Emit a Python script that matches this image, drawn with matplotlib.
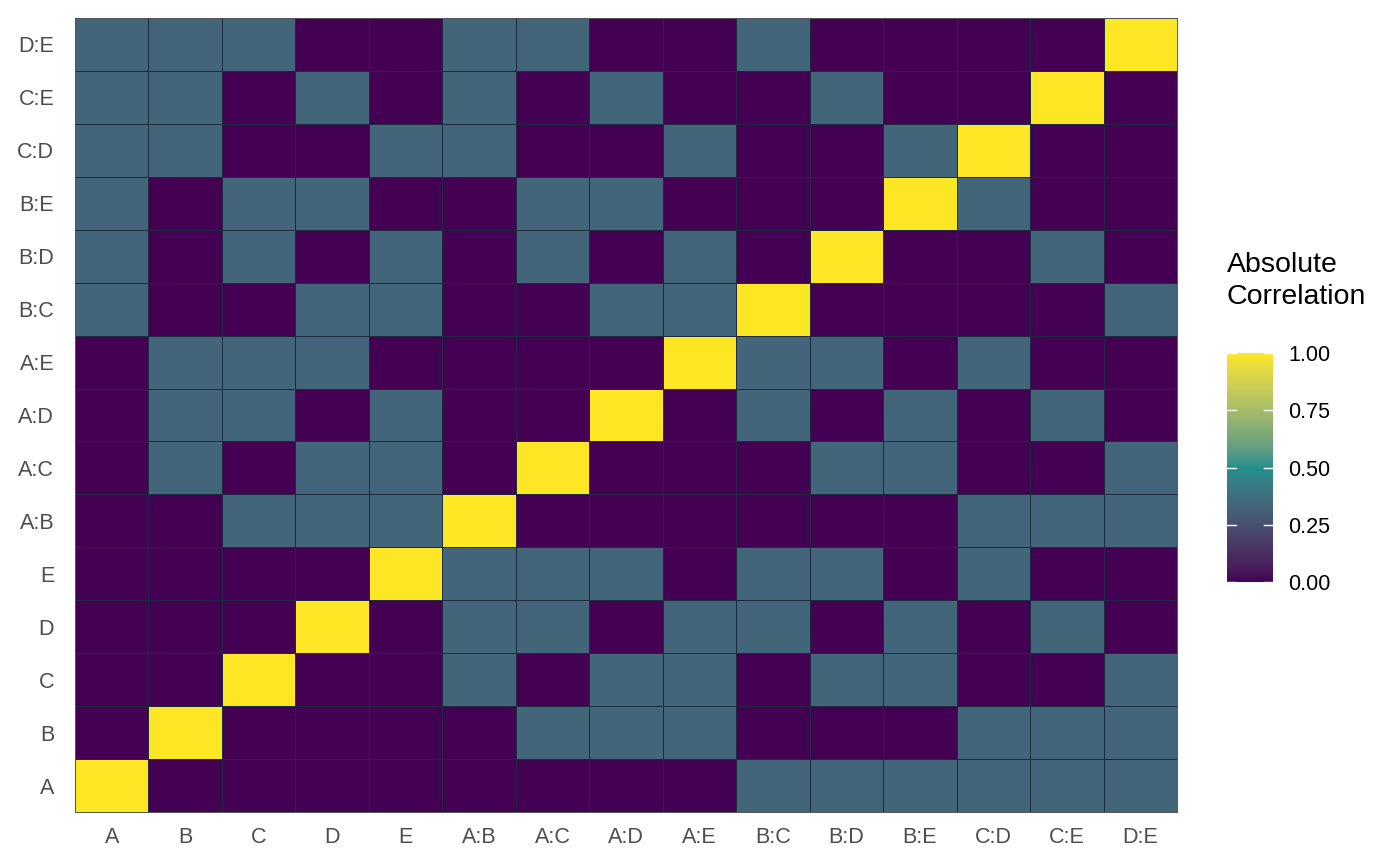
import numpy as np
import matplotlib
matplotlib.use("Agg")
import matplotlib.pyplot as plt
from matplotlib.colors import ListedColormap, Normalize, to_rgb
import matplotlib.cm as cm

plt.rcParams['font.family'] = ['Liberation Sans', 'DejaVu Sans']

terms = ["A", "B", "C", "D", "E", "A:B", "A:C", "A:D", "A:E",
         "B:C", "B:D", "B:E", "C:D", "C:E", "D:E"]
m = 1/3
# rows listed bottom (A) to top (D:E); columns A .. D:E
corr = [
    [1, 0, 0, 0, 0, 0, 0, 0, 0, m, m, m, m, m, m],  # A
    [0, 1, 0, 0, 0, 0, m, m, m, 0, 0, 0, m, m, m],  # B
    [0, 0, 1, 0, 0, m, 0, m, m, 0, m, m, 0, 0, m],  # C
    [0, 0, 0, 1, 0, m, m, 0, m, m, 0, m, 0, m, 0],  # D
    [0, 0, 0, 0, 1, m, m, m, 0, m, m, 0, m, 0, 0],  # E
    [0, 0, m, m, m, 1, 0, 0, 0, 0, 0, 0, m, m, m],  # A:B
    [0, m, 0, m, m, 0, 1, 0, 0, 0, m, m, 0, 0, m],  # A:C
    [0, m, m, 0, m, 0, 0, 1, 0, m, 0, m, 0, m, 0],  # A:D
    [0, m, m, m, 0, 0, 0, 0, 1, m, m, 0, m, 0, 0],  # A:E
    [m, 0, 0, m, m, 0, 0, m, m, 1, 0, 0, 0, 0, m],  # B:C
    [m, 0, m, 0, m, 0, m, 0, m, 0, 1, 0, 0, m, 0],  # B:D
    [m, 0, m, m, 0, 0, m, m, 0, 0, 0, 1, m, 0, 0],  # B:E
    [m, m, 0, 0, m, m, 0, 0, m, 0, 0, m, 1, 0, 0],  # C:D
    [m, m, 0, m, 0, m, 0, m, 0, 0, m, 0, 0, 1, 0],  # C:E
    [m, m, m, 0, 0, m, m, 0, 0, m, 0, 0, 0, 0, 1],  # D:E
]
Z = np.array(corr, dtype=float)
anchor_colors = ["#440154", "#21908C", "#FDE725"]


# --- Lab interpolation of the anchor colours (like ggplot's gradientn) ---
def srgb_to_lin(c):
    c = np.asarray(c)
    return np.where(c <= 0.04045, c / 12.92, ((c + 0.055) / 1.055) ** 2.4)


def lin_to_srgb(c):
    c = np.clip(c, 0, 1)
    return np.where(c <= 0.0031308, 12.92 * c, 1.055 * c ** (1 / 2.4) - 0.055)


M = np.array([[0.4124, 0.3576, 0.1805],
              [0.2126, 0.7152, 0.0722],
              [0.0193, 0.1192, 0.9505]])
WP = np.array([0.95047, 1.0, 1.08883])


def rgb_to_lab(rgb):
    xyz = M @ srgb_to_lin(rgb) / WP
    f = np.where(xyz > (6 / 29) ** 3, np.cbrt(xyz), xyz / (3 * (6 / 29) ** 2) + 4 / 29)
    return np.array([116 * f[1] - 16, 500 * (f[0] - f[1]), 200 * (f[1] - f[2])])


def lab_to_rgb(lab):
    L, a, b = lab
    fy = (L + 16) / 116
    fx = fy + a / 500
    fz = fy - b / 200
    f = np.array([fx, fy, fz])
    xyz = np.where(f > 6 / 29, f ** 3, 3 * (6 / 29) ** 2 * (f - 4 / 29)) * WP
    return lin_to_srgb(np.linalg.solve(M, xyz))


labs = [rgb_to_lab(to_rgb(c)) for c in anchor_colors]
pos = np.linspace(0, 1, len(anchor_colors))
cols = []
for t in np.linspace(0, 1, 256):
    lab = np.array([np.interp(t, pos, [l[k] for l in labs]) for k in range(3)])
    cols.append(lab_to_rgb(lab))
cmap = ListedColormap(cols)
norm = Normalize(0, 1)

fig = plt.figure(figsize=(14, 8.66), dpi=100)
W, H = 1400, 866
ax = fig.add_axes([75 / W, (H - 812) / H, (1177 - 75) / W, (812 - 18) / H])

n = len(terms)
ax.pcolormesh(np.arange(n + 1) - 0.5, np.arange(n + 1) - 0.5, Z,
              cmap=cmap, norm=norm,
              edgecolor="#1e2a40", linewidth=0.7)
ax.set_xlim(-0.5, n - 0.5)
ax.set_ylim(-0.5, n - 0.5)
ax.set_xticks(range(n))
ax.set_xticklabels(terms)
ax.set_yticks(range(n))
ax.set_yticklabels(terms)
ax.tick_params(length=0, labelsize=15.5, colors="#4d4d4d")
ax.tick_params(axis="x", pad=11)
ax.tick_params(axis="y", pad=15)
for s in ax.spines.values():
    s.set_edgecolor("#555555")
    s.set_linewidth(0.7)

# colorbar
cax = fig.add_axes([1227 / W, (H - 582) / H, 46 / W, (582 - 353) / H])
sm = cm.ScalarMappable(norm=norm, cmap=cmap)
cb = fig.colorbar(sm, cax=cax)
cb.outline.set_visible(False)
ticks = [0, 0.25, 0.5, 0.75, 1.0]
cb.set_ticks(ticks)
cb.set_ticklabels(["0.00", "0.25", "0.50", "0.75", "1.00"])
cax.tick_params(length=0, labelsize=15.5, colors="black", pad=11)
for t in ticks:
    cax.axhline(t, xmin=0, xmax=0.2, color="white", linewidth=1.0)
    cax.axhline(t, xmin=0.8, xmax=1, color="white", linewidth=1.0)

fig.text(1227 / W, (H - 252) / H, "Absolute\nCorrelation", fontsize=20.5,
         ha="left", va="top", linespacing=1.3)

fig.savefig("out.png", dpi=100)
